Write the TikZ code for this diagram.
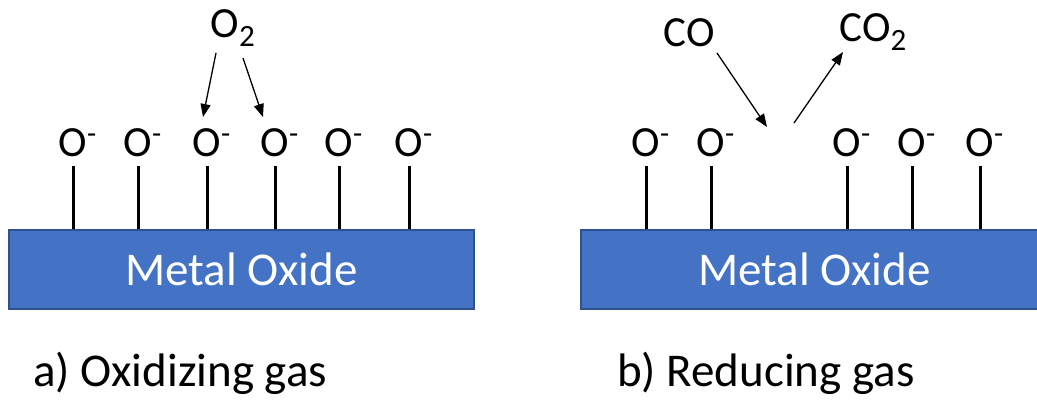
\documentclass[tikz,border=0pt]{standalone}
\usepackage{fontspec}
\setmainfont{Carlito}
\usetikzlibrary{arrows.meta}
\definecolor{oxfill}{HTML}{4472C4}
\definecolor{oxedge}{HTML}{2F528F}
\newcommand{\ionO}{O\rlap{\raisebox{13pt}{\fontsize{30}{30}\selectfont -}}}
\newcommand{\subtwo}{\raisebox{-9pt}{\fontsize{31}{31}\selectfont 2}}
\begin{document}
\begin{tikzpicture}[x=1pt,y=-1pt,
  lbl/.style={font=\fontsize{43}{43}\selectfont, inner sep=0pt, anchor=base},
  caption/.style={font=\fontsize{47}{47}\selectfont, inner sep=0pt, anchor=base west},
  oxide/.style={draw=oxedge, line width=1.5pt, fill=oxfill, text=white,
    font=\fontsize{47}{47}\selectfont, minimum height=79pt, inner sep=0pt,
    anchor=north west},
  stick/.style={line width=3pt},
  flow/.style={line width=1.3pt, -{Triangle[length=13pt,width=10pt]}}]
\useasboundingbox (0,0) rectangle (1037,400);

% ---- a) oxidizing gas ----
\node[oxide, minimum width=465pt] (rectL) at (8,229) {Metal Oxide};
\foreach \i/\x in {1/73,2/138,3/207,4/275,5/339,6/409}{
  \node[lbl] (ionL\i) at (\x,156) {\ionO};
  \draw[stick] ([yshift=-10pt]ionL\i.base) -- (ionL\i.base |- rectL.north);
}
\node[lbl] (o2) at (225,37) {O\rlap{\subtwo}};
\coordinate (o2a) at (216,53);
\coordinate (o2b) at (243,58);
\coordinate (tipL3) at (203,117);
\coordinate (tipL4) at (263,117);
\draw[flow] (o2a) -- (tipL3);
\draw[flow] (o2b) -- (tipL4);
\node[caption] (capA) at (33,386) {a) Oxidizing gas};

% ---- b) reducing gas ----
\node[oxide, minimum width=467pt] (rectR) at (580,229) {Metal Oxide};
\foreach \i/\x in {1/646,2/711,3/847,4/912,5/980}{
  \node[lbl] (ionR\i) at (\x,156) {\ionO};
  \draw[stick] ([yshift=-10pt]ionR\i.base) -- (ionR\i.base |- rectR.north);
}
\node[lbl] (co) at (689,46) {CO};
\node[lbl] (co2) at (865,41) {CO\rlap{\subtwo}};
\coordinate (coTail) at (717,53);
\coordinate (site) at (767,127);
\coordinate (co2Tail) at (794,123);
\coordinate (co2Tip) at (843,52);
\draw[flow] (coTail) -- (site);
\draw[flow] (co2Tail) -- (co2Tip);
\node[caption] (capB) at (617,386) {b) Reducing gas};
\end{tikzpicture}
\end{document}
